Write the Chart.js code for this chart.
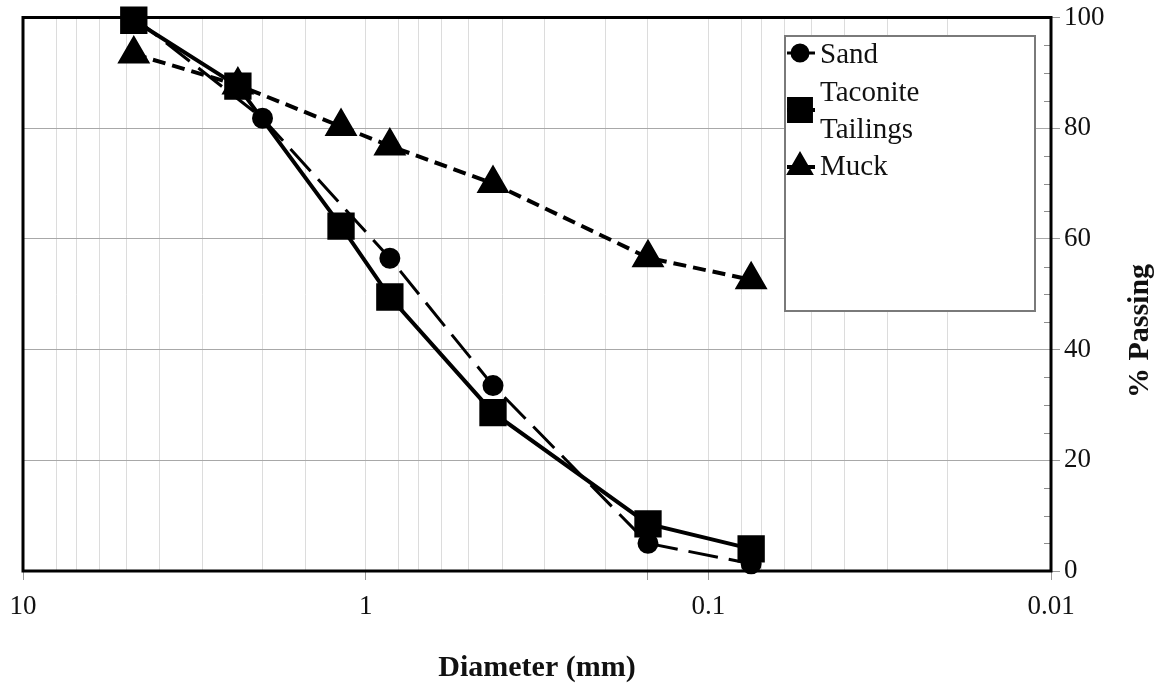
<!DOCTYPE html>
<html>
<head>
<meta charset="utf-8">
<script src="https://cdn.jsdelivr.net/npm/chart.js@4.4.0/dist/chart.umd.min.js"></script>
<style>
  html, body { margin: 0; padding: 0; background: #fff; }
  #wrap { width: 1162px; height: 686px; }
</style>
</head>
<body>
<div id="wrap"><canvas id="gradation" width="1162" height="686"></canvas></div>
<script>
// sieve sizes (mm) and % passing
var sandSize = [4.75, 2.0, 0.85, 0.425, 0.15, 0.075];
var sandPass = [100, 81.8, 56.5, 33.5, 5.0, 1.3];

var taconiteSize = [4.75, 2.36, 1.18, 0.85, 0.425, 0.15, 0.075];
var taconitePass = [99.5, 87.6, 62.3, 49.5, 28.6, 8.5, 4.0];

var muckSize = [4.75, 2.36, 1.18, 0.85, 0.425, 0.15, 0.075];
var muckPass = [93.4, 87.8, 80.3, 76.8, 70.0, 56.6, 52.6];

var xTickLabels = [10, 1, 0.1, 0.01];
var yTickLabels = [0, 20, 40, 60, 80, 100];

var serif = '"Liberation Serif", "Times New Roman", serif';

function toPoints(xs, ys) {
    return xs.map(function(x, i) { return { x: x, y: ys[i] }; });
}

function mantissa(v) {
    return Math.round(v / Math.pow(10, Math.floor(Math.log10(v) + 1e-9)));
}

// legend entries (text lines + y position of each)
var legendItems = [
    { ds: 0, lines: ['Sand'], markY: 53, textY: [55] },
    { ds: 1, lines: ['Taconite', 'Tailings'], markY: 110, textY: [93, 130] },
    { ds: 2, lines: ['Muck'], markY: 167, textY: [167] }
];

var framePlugin = {
    id: 'frame',
    beforeDatasetsDraw: function(chart) {
        var ctx = chart.ctx, a = chart.chartArea;
        var y = chart.scales.y;
        ctx.save();
        // minor ticks on the inside of the right axis
        ctx.strokeStyle = '#8c8c8c';
        ctx.lineWidth = 1;
        for (var v = 5; v < 100; v += 5) {
            if (v % 20 === 0) continue;
            var py = Math.round(y.getPixelForValue(v)) + 0.5;
            ctx.beginPath();
            ctx.moveTo(a.right - 7, py);
            ctx.lineTo(a.right, py);
            ctx.stroke();
        }
        ctx.strokeStyle = '#000';
        ctx.lineWidth = 3;
        ctx.strokeRect(a.left, a.top, a.right - a.left, a.bottom - a.top);
        ctx.restore();
    },
    afterDatasetsDraw: function(chart) {
        var ctx = chart.ctx;
        ctx.save();
        // legend box
        ctx.fillStyle = '#fff';
        ctx.fillRect(785, 36, 250, 275);
        ctx.strokeStyle = '#7a7a7a';
        ctx.lineWidth = 2;
        ctx.strokeRect(785, 36, 250, 275);

        legendItems.forEach(function(item) {
            var ds = chart.data.datasets[item.ds];
            ctx.strokeStyle = '#000';
            ctx.lineWidth = ds.borderWidth;
            ctx.setLineDash(ds.borderDash || []);
            ctx.beginPath();
            ctx.moveTo(787, item.markY);
            ctx.lineTo(815, item.markY);
            ctx.stroke();
            ctx.setLineDash([]);
            ctx.fillStyle = '#000';
            Chart.helpers.drawPoint(ctx, {
                pointStyle: ds.pointStyle,
                radius: ds.legendRadius,
                rotation: 0,
                borderWidth: 1
            }, 800, item.markY);
            ctx.fillStyle = '#111';
            ctx.font = '29px ' + serif;
            ctx.textAlign = 'left';
            ctx.textBaseline = 'middle';
            item.lines.forEach(function(t, i) {
                ctx.fillText(t, 820, item.textY[i]);
            });
        });

        // y axis title, reading bottom to top
        ctx.font = 'bold 30px ' + serif;
        ctx.fillStyle = '#111';
        ctx.textAlign = 'center';
        ctx.textBaseline = 'middle';
        ctx.translate(1140, 331);
        ctx.rotate(-Math.PI / 2);
        ctx.fillText('% Passing', 0, 0);
        ctx.restore();
    }
};

var ctx = document.getElementById('gradation').getContext('2d');
var chart = new Chart(ctx, {
    type: 'scatter',
    data: {
        datasets: [{
            label: 'Sand',
            data: toPoints(sandSize, sandPass),
            showLine: true,
            borderColor: '#000',
            backgroundColor: '#000',
            borderWidth: 3,
            borderDash: [30, 11],
            pointStyle: 'circle',
            pointRadius: 9,
            legendRadius: 8,
            order: 1,
            clip: false
        }, {
            label: 'Taconite Tailings',
            data: toPoints(taconiteSize, taconitePass),
            showLine: true,
            borderColor: '#000',
            backgroundColor: '#000',
            borderWidth: 4,
            pointStyle: 'rect',
            pointRadius: 16.5,
            legendRadius: 15.5,
            order: 0,
            clip: false
        }, {
            label: 'Muck',
            data: toPoints(muckSize, muckPass),
            showLine: true,
            borderColor: '#000',
            backgroundColor: '#000',
            borderWidth: 4,
            borderDash: [13, 7],
            pointStyle: 'triangle',
            pointRadius: 15,
            legendRadius: 12,
            order: 2,
            clip: false
        }]
    },
    options: {
        responsive: false,
        animation: false,
        devicePixelRatio: 1,
        layout: {
            autoPadding: false,
            padding: { left: 23, top: 16, right: 0, bottom: 0 }
        },
        plugins: {
            legend: { display: false },
            tooltip: { enabled: false },
            title: { display: false }
        },
        scales: {
            x: {
                type: 'logarithmic',
                reverse: true,
                min: 0.01,
                max: 10,
                border: { display: false },
                grid: {
                    // Excel leaves out the 9x line in each decade
                    color: function(c) {
                        return mantissa(c.tick.value) === 9 ? 'rgba(0,0,0,0)' : '#dcdcdc';
                    },
                    lineWidth: 1,
                    tickLength: 9,
                    tickColor: function(c) {
                        return mantissa(c.tick.value) === 1 ? '#999' : 'rgba(0,0,0,0)';
                    }
                },
                ticks: {
                    autoSkip: false,
                    maxRotation: 0,
                    padding: 13,
                    color: '#111',
                    font: { family: serif, size: 27, lineHeight: 1 },
                    callback: function(v) {
                        return xTickLabels.indexOf(v) >= 0 ? String(v) : '';
                    }
                },
                title: {
                    display: true,
                    text: 'Diameter (mm)',
                    color: '#111',
                    font: { family: serif, size: 30, weight: 'bold' },
                    padding: { top: 24, bottom: 0 }
                },
                afterFit: function(scale) {
                    scale.height = 115;
                    // keep the plot edge fixed, labels may hang over
                    scale.paddingLeft = 0;
                    scale.paddingRight = 0;
                }
            },
            y: {
                position: 'right',
                min: 0,
                max: 100,
                border: { display: false },
                grid: {
                    color: '#a8a8a8',
                    lineWidth: 1,
                    tickLength: 9,
                    tickColor: '#999'
                },
                ticks: {
                    stepSize: 20,
                    padding: 4,
                    color: '#111',
                    font: { family: serif, size: 27, lineHeight: 1 },
                    callback: function(v) {
                        return yTickLabels.indexOf(v) >= 0 ? String(v) : '';
                    }
                },
                afterFit: function(scale) { scale.width = 111; }
            }
        }
    },
    plugins: [framePlugin]
});
</script>
</body>
</html>
